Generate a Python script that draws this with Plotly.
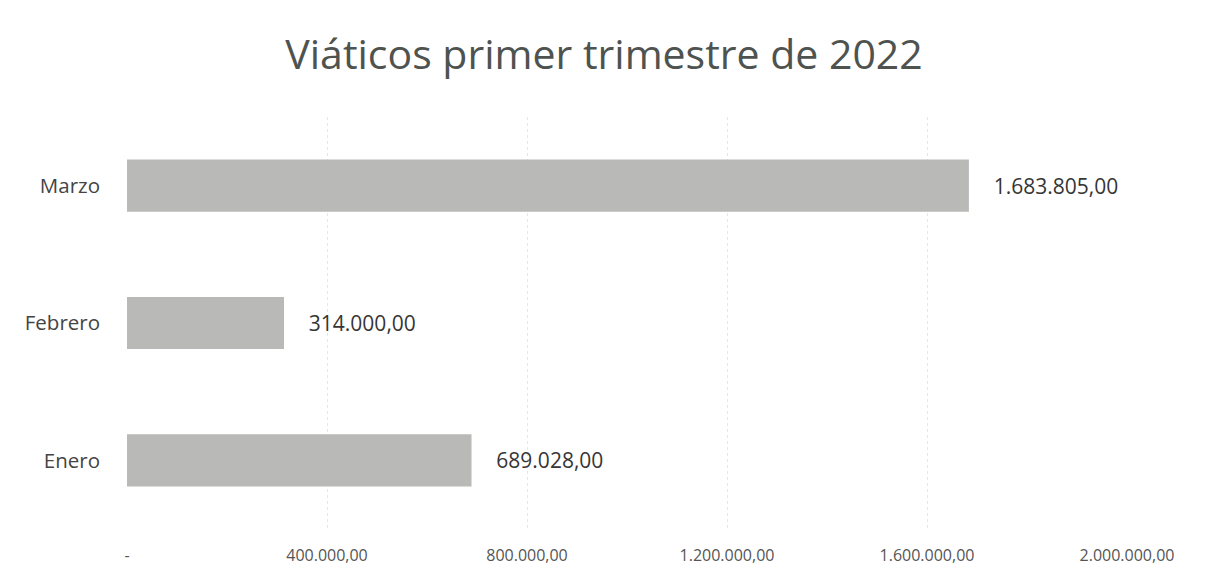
import plotly.graph_objects as go

meses = ["Enero", "Febrero", "Marzo"]
viaticos = [689028.00, 314000.00, 1683805.00]
tick_vals = [0, 400000, 800000, 1200000, 1600000, 2000000]
tick_text = ["-", "400.000,00", "800.000,00", "1.200.000,00", "1.600.000,00", "2.000.000,00"]

# the page adds an 8px body margin, margins below are offset for that
fig = go.Figure(go.Bar(
    x=viaticos, y=meses, orientation="h",
    marker=dict(color="#b9b9b7", line=dict(width=0)),
    width=0.38,
    texttemplate="\u00a0\u00a0\u00a0\u00a0%{x:,.2f}",
    textposition="outside",
    textfont=dict(size=21, color="#363636"),
    cliponaxis=False,
))

fig.update_layout(
    width=1209, height=571,
    separators=",.",
    paper_bgcolor="white", plot_bgcolor="white",
    font=dict(family="Open Sans, sans-serif", color="#444"),
    title=dict(text="Viáticos primer trimestre de 2022", x=0.493, xanchor="center",
               y=0.918, yanchor="middle",
               font=dict(size=41, color="#4f534f")),
    margin=dict(l=119, r=90, t=109, b=50),
    xaxis=dict(range=[0, 2000000], tickvals=tick_vals, ticktext=tick_text,
               showgrid=True, gridcolor="#e6e6e6", griddash="dot", gridwidth=1,
               zeroline=False, showline=False, automargin=False,
               tickfont=dict(size=16, color="#555"), ticks="", ticklabelstandoff=15),
    yaxis=dict(showgrid=False, zeroline=False, showline=False, automargin=False,
               tickfont=dict(size=20.5, color="#444"), ticks="", ticklabelstandoff=26),
    showlegend=False,
)

fig.write_html("out.html")
